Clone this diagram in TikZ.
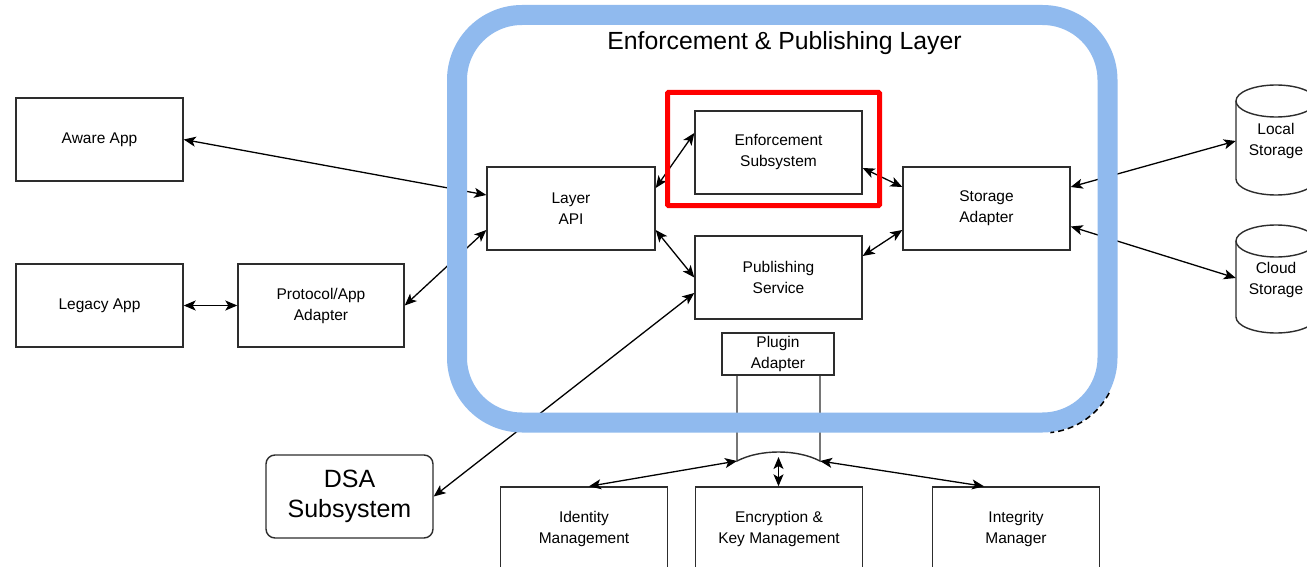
\documentclass[tikz,border=0pt]{standalone}
\usepackage{fontspec}
\setmainfont{Liberation Sans}
\usetikzlibrary{arrows.meta}
\definecolor{layerblue}{RGB}{144,186,238}
\definecolor{edge}{RGB}{45,45,45}
\definecolor{alert}{RGB}{255,0,0}

\begin{document}
\begin{tikzpicture}[x=1pt,y=-1pt,
  box/.style={draw=edge, line width=1.4pt, fill=white, minimum width=167pt,
    minimum height=83pt, inner sep=0pt, align=center,
    font=\fontsize{15.5}{21}\selectfont, text=black},
  store/.style={minimum width=80pt, inner sep=0pt, align=center,
    font=\fontsize{15.5}{21}\selectfont, text=black},
  outline/.style={draw=edge, line width=1.4pt},
  link/.style={draw=black, line width=1.3pt,
    {Stealth[length=12pt,width=10pt,inset=3pt]}-{Stealth[length=12pt,width=10pt,inset=3pt]}},
  ]
\useasboundingbox (0,0) rectangle (1307,567);
\clip (0,0) rectangle (1307,567);
\fill[white] (0,0) rectangle (1307,567);

% storage cylinders (outline first, label node on top)
\draw[outline, fill=white] (1236,101) -- (1236,179)
  arc[start angle=180, end angle=360, x radius=40pt, y radius=16pt]
  -- (1316,101) arc[start angle=0, end angle=180, x radius=40pt, y radius=16pt];
\draw[outline] (1236,101) arc[start angle=180, end angle=360, x radius=40pt, y radius=16pt];
\node[store, minimum height=110pt] (local) at (1276,141) {Local\\Storage};

\draw[outline, fill=white] (1236,241) -- (1236,317)
  arc[start angle=180, end angle=360, x radius=40pt, y radius=16pt]
  -- (1316,241) arc[start angle=0, end angle=180, x radius=40pt, y radius=16pt];
\draw[outline] (1236,241) arc[start angle=180, end angle=360, x radius=40pt, y radius=16pt];
\node[store, minimum height=108pt] (cloud) at (1276,280) {Cloud\\Storage};

% boxes
\node[box] (aware) at (99.5,139.5) {Aware App};
\node[box] (legacy) at (99.5,305.5) {Legacy App};
\node[box, minimum width=166pt] (proto) at (321,305.5) {Protocol/App\\Adapter};
\node[box, minimum width=168pt] (api) at (571,208.5) {Layer\\API};
\node[box] (enf) at (778.5,152.5) {Enforcement\\Subsystem};
\node[box] (pub) at (778.5,277.5) {Publishing\\Service};
\node[box] (stor) at (986.5,208.5) {Storage\\Adapter};
\node[box, minimum width=112pt, minimum height=42pt] (plug) at (778,354) {Plugin\\Adapter};
\node[box, rounded corners=9pt, font=\fontsize{25}{30}\selectfont] (dsa) at (349.5,496.5) {DSA\\Subsystem};
\node[box] (idm) at (584,528.5) {Identity\\Management};
\node[box] (enc) at (779,528.5) {Encryption \&\\Key Management};
\node[box] (intm) at (1016,528.5) {Integrity\\Manager};

% plugin adapter fan-out
\coordinate (wl) at (737,461);
\coordinate (wr) at (820,461);
\coordinate (wm) at (778.5,457);
\draw[outline] ([xshift=-41pt]plug.south) -- (wl)
  .. controls (760,449) and (797,449) .. (wr) -- ([xshift=42pt]plug.south);
\draw[link] (wl) -- ([xshift=5pt]idm.north);
\draw[link] (wr) -- ([xshift=-32pt]intm.north);
\draw[link] (wm) -- (wm |- enc.north);

% connectors
\draw[link] (aware.east) -- ([yshift=13.5pt]api.west);
\draw[link] (proto.east) -- ([yshift=-21.5pt]api.west);
\draw[link] (legacy.east) -- (proto.west);
\draw[link] ([yshift=20.5pt]api.east) -- ([yshift=19.5pt]enf.west);
\draw[link] ([yshift=-21.5pt]api.east) -- (pub.west);
\draw[link] ([yshift=-15.5pt]enf.east) -- ([yshift=21.5pt]stor.west);
\draw[link] ([yshift=21.5pt]pub.east) -- ([yshift=-21.5pt]stor.west);
\draw[link] ([yshift=21.5pt]stor.east) -- (local.west);
\draw[link] ([yshift=-18pt]stor.east) -- ([yshift=2pt]cloud.west);
\draw[link] (dsa.east) -- ([yshift=-15.5pt]pub.west);

% layer frame
\draw[layerblue, line width=20pt, rounded corners=65pt] (457,15) rectangle (1107.5,422.5);
\draw[black, line width=1.5pt, dash pattern=on 6pt off 4pt]
  plot[domain=28:84, samples=30] ({1042.5+75.5*cos(\x)},{357.5+75.5*sin(\x)});
\node[font=\fontsize{24.8}{29}\selectfont, text=black] (title) at (784.5,43) {Enforcement \& Publishing Layer};

% highlight around the enforcement subsystem
\draw[alert, line width=5pt, rounded corners=1pt] (667.5,92.5) rectangle (879.5,205.5);
\end{tikzpicture}
\end{document}
